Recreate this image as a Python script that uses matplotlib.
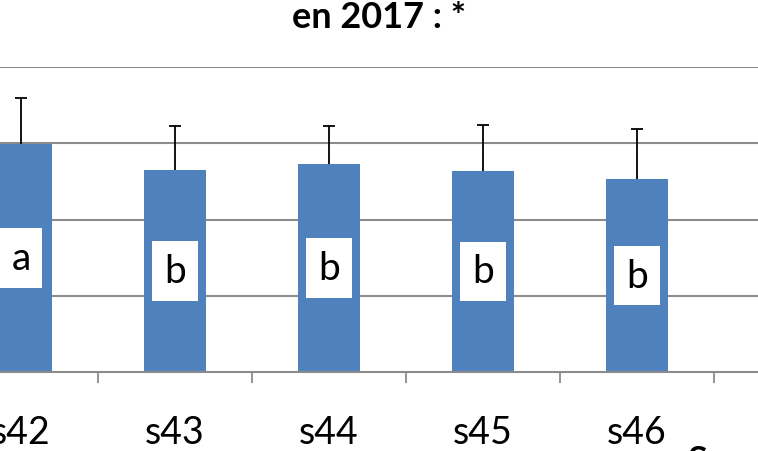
import matplotlib
matplotlib.use("Agg")
import matplotlib.pyplot as plt
import numpy as np

categories = ["s42", "s43", "s44", "s45", "s46"]
means = [2.99, 2.645, 2.73, 2.64, 2.53]
errors = [0.60, 0.585, 0.50, 0.60, 0.66]
letters = ["a", "b", "b", "b", "b"]
title = "en 2017 : *"

plt.rcParams['font.family'] = ['Lato', 'DejaVu Sans']

W, H = 758, 452
fig = plt.figure(figsize=(W/100, H/100), dpi=100)
ax = fig.add_axes([0, 1-373/H, 1, (373-68)/H])

x = np.arange(len(categories))
means_a = np.array(means)
errors_a = np.array(errors)
bar_color = "#4F81BD"
grid_color = "#8C8C8C"

ax.bar(x, means_a, width=0.4, color=bar_color, zorder=2)
# upper-only error bars
cap_half = 0.04
ax.vlines(x, means_a, means_a + errors_a, colors="black", linewidth=1.3, zorder=3)
ax.hlines(means_a + errors_a, x - cap_half, x + cap_half, colors="black", linewidth=1.3, zorder=3)

for xi, m, l in zip(x, means_a, letters):
    ax.text(xi, m/2, l, ha="center", va="center", fontsize=28, color="black", zorder=4,
            bbox=dict(boxstyle="square,pad=0.3", fc="white", ec="none"))

x0 = -21/154
ax.set_xlim(x0, x0 + W/154)
ax.set_ylim(0, 4)
ax.set_yticks([1, 2, 3, 4])
ax.yaxis.grid(True, color=grid_color, linewidth=1.5, zorder=0)
ax.tick_params(axis="y", length=0, labelleft=False)
for s in ["top", "left", "right"]:
    ax.spines[s].set_visible(False)
ax.spines["bottom"].set_color(grid_color)
ax.spines["bottom"].set_linewidth(1.5)
ax.spines["bottom"].set_zorder(5)
ax.set_axisbelow(True)

ax.set_xticks(x)
ax.set_xticklabels(categories, fontsize=27)
ax.set_xticks(np.arange(0.5, 5.5, 1), minor=True)
ax.tick_params(axis="x", which="major", length=0, pad=30)
ax.tick_params(axis="x", which="minor", length=8, width=1.3, color=grid_color, direction="out")

fig.text(0.5, 1-28/H, title, ha="center", va="baseline", fontsize=26, fontweight="bold")
fig.text(697/W, 1-445/H, "S", ha="center", va="top", fontsize=26, fontweight="bold")

fig.savefig("out.png", dpi=100)
